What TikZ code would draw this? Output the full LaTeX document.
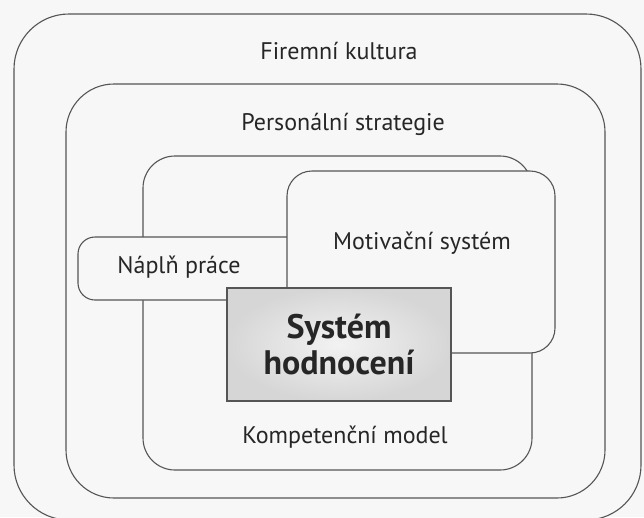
\documentclass[tikz,border=0pt]{standalone}
\usepackage{fontspec}
\setmainfont{PT Sans}
\definecolor{paper}{HTML}{F7F7F7}
\definecolor{ink}{HTML}{555555}
\definecolor{txt}{HTML}{262626}
\begin{document}
\begin{tikzpicture}[x=1pt,y=-1pt,
  frame/.style={draw=ink, line width=1.1pt, fill=paper},
  lbl/.style={text=txt, inner sep=0pt, font=\fontsize{24}{28}\selectfont},
  core/.style={draw=ink, line width=1.1pt, shade, inner color=gray!10, outer color=gray!32,
    minimum width=224pt, minimum height=113pt, align=center, text=txt,
    font=\fontsize{34}{36}\selectfont\bfseries}]
\useasboundingbox (0,0) rectangle (644,517);
\fill[paper] (0,0) rectangle (644,517);
\begin{scope}
  \clip (0,0) rectangle (644,517);
  % outer ring: company culture
  \draw[frame, rounded corners=55pt] (14,14) rectangle (641,520);
\end{scope}
% personnel strategy
\draw[frame, rounded corners=48pt] (66,84) rectangle (605,498);
% competence model
\draw[frame, rounded corners=32pt] (143,156) rectangle (532,470);
% job description
\draw[frame, rounded corners=17pt] (78,237) rectangle (330,300);
% motivation system
\draw[frame, rounded corners=25pt] (287,171) rectangle (555,353);
% appraisal system in front
\node[core] (hodnoceni) at (339,344.5) {Systém\\hodnocení};

\node[lbl] (kultura) at (339,51) {Firemní kultura};
\node[lbl] (strategie) at (343,124) {Personální strategie};
\node[lbl] (motivace) at (422,243) {Motivační systém};
\node[lbl] (napln) at (179,267) {Náplň práce};
\node[lbl] (kompetence) at (345,437) {Kompetenční model};
\end{tikzpicture}
\end{document}
